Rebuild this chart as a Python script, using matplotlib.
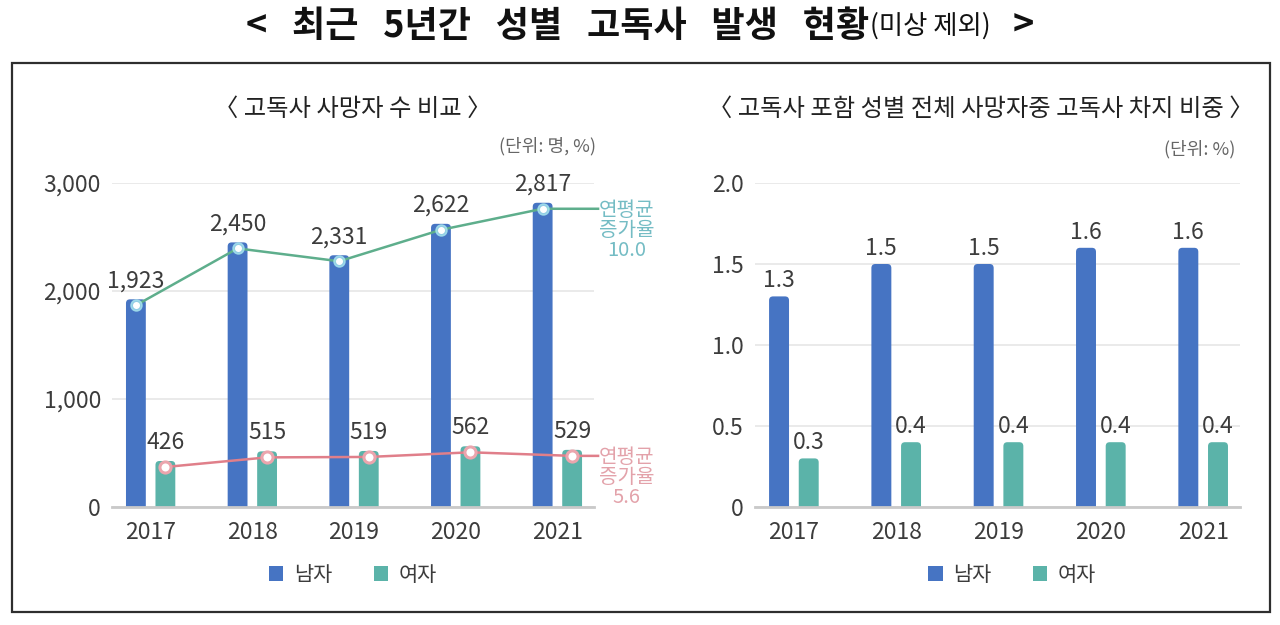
import numpy as np
import matplotlib
matplotlib.use("Agg")
import matplotlib.pyplot as plt
import matplotlib.transforms as mtransforms
from matplotlib.patches import Rectangle, Patch, FancyBboxPatch

plt.rcParams["font.family"] = ["Noto Sans CJK KR", "DejaVu Sans"]

# data
years = ["2017", "2018", "2019", "2020", "2021"]
male_deaths = [1923, 2450, 2331, 2622, 2817]
female_deaths = [426, 515, 519, 562, 529]
male_share = [1.3, 1.5, 1.5, 1.6, 1.6]
female_share = [0.3, 0.4, 0.4, 0.4, 0.4]
male_cagr = "10.0"
female_cagr = "5.6"
series_names = ["남자", "여자"]

BLUE = "#4674C3"
TEAL = "#5BB3A9"
TXT = "#3C3C3C"
GRID = "#E8E8E8"
NUM = 16.5

fig = plt.figure(figsize=(12.8, 6.25), dpi=100)

# outer frame
fig.patches.append(Rectangle((12 / 1280, 13 / 625), 1258 / 1280, 549 / 625,
                             transform=fig.transFigure, fill=False,
                             edgecolor="#2E2E2E", lw=1.6))

# main title pieces (positioned after a draw)
TY = 0.958
t1 = fig.text(0, TY, "<   최근   5년간   성별   고독사   발생   현황",
              fontsize=26, fontweight="bold", color="#111111", va="center")
t2 = fig.text(0, TY, "(미상 제외)", fontsize=19, color="#111111", va="center")
t3 = fig.text(0, TY, ">", fontsize=26, fontweight="bold", color="#111111",
              va="center")

x = np.arange(len(years))
w = 0.195
off = 0.145


def style_axes(ax, ymax, ticks, fmt):
    ax.set_xlim(-0.38, 4.36)
    ax.set_ylim(0, ymax)
    ax.set_yticks(ticks)
    ax.set_yticklabels([fmt(t) for t in ticks])
    ax.set_xticks(x)
    ax.set_xticklabels(years)
    for s in ["top", "left", "right"]:
        ax.spines[s].set_visible(False)
    ax.spines["bottom"].set_color("#C9C9C9")
    ax.spines["bottom"].set_linewidth(2)
    ax.spines["bottom"].set_zorder(6)
    ax.yaxis.grid(True, color=GRID, lw=1.3)
    ax.set_axisbelow(True)
    ax.tick_params(axis="both", length=0, labelsize=NUM, colors=TXT)
    ax.tick_params(axis="x", pad=10)
    ax.tick_params(axis="y", pad=8)


def round_bars(ax, bars, radius_px=4):
    # swap each bar for a rounded-top box with the same geometry
    fig.canvas.draw()
    p0 = ax.transData.transform((0, 0))
    p1 = ax.transData.transform((1, 1))
    ux = 1 / (p1[0] - p0[0])  # data x per pixel
    uy = 1 / (p1[1] - p0[1])  # data y per pixel
    rx = radius_px * ux
    ry = radius_px * uy
    for r in bars:
        bx, bw, bh = r.get_x(), r.get_width(), r.get_height()
        fb = FancyBboxPatch((bx, -ry), bw, bh + ry,
                            boxstyle=f"round,pad=0,rounding_size={rx}",
                            mutation_aspect=uy / ux, facecolor=r.get_facecolor(),
                            edgecolor="none", zorder=2)
        ax.add_patch(fb)
        r.set_visible(False)


def add_legend(ax, xc):
    handles = [Patch(facecolor=BLUE), Patch(facecolor=TEAL)]
    ax.legend(handles, series_names, loc="center", bbox_to_anchor=(xc, -0.21),
              ncol=2, frameon=False, fontsize=15, handlelength=0.7,
              handleheight=0.7, handletextpad=0.5, columnspacing=2.0,
              labelcolor=TXT)


# ---- left: counts ----
ax1 = fig.add_axes([112 / 1280, 118 / 625, 482 / 1280, 324 / 625])
b1 = ax1.bar(x - off, male_deaths, w, color=BLUE, zorder=2)
b2 = ax1.bar(x + off, female_deaths, w, color=TEAL, zorder=2)
style_axes(ax1, 3000, [0, 1000, 2000, 3000], lambda v: f"{v:,}")
ax1.bar_label(b1, labels=[f"{v:,}" for v in male_deaths], padding=5,
              fontsize=NUM, color=TXT)
ax1.bar_label(b2, labels=[f"{v:,}" for v in female_deaths], padding=5,
              fontsize=NUM, color=TXT)

down = mtransforms.offset_copy(ax1.transData, fig=fig, y=-6, units="dots")
# male trend line
ax1.plot(list(x - off) + [4.40], male_deaths + [male_deaths[-1]],
         color="#5EAE8C", lw=1.8, transform=down, zorder=3, clip_on=False)
ax1.plot(x - off, male_deaths, "o", ms=8, color="#A6E4EE", alpha=0.8,
         transform=down, zorder=4)
ax1.plot(x - off, male_deaths, "o", ms=4, color="white", transform=down,
         zorder=5)
# female trend line
ax1.plot(list(x + off) + [4.40], female_deaths + [female_deaths[-1]],
         color="#E07F8A", lw=1.8, transform=down, zorder=3, clip_on=False)
ax1.plot(x + off, female_deaths, "o", ms=8, mfc="white", mec="#EBA5AD",
         mew=2.2, transform=down, zorder=4)

ax1.annotate("연평균\n증가율\n" + male_cagr, xy=(4.68, male_deaths[-1]),
             xytext=(0, 2), textcoords="offset points", ha="center", va="top",
             fontsize=14.5, color="#74BCC4", linespacing=0.95,
             annotation_clip=False)
ax1.annotate("연평균\n증가율\n" + female_cagr, xy=(4.68, female_deaths[-1]),
             xytext=(0, 2), textcoords="offset points", ha="center", va="top",
             fontsize=14.5, color="#E3A2AA", linespacing=0.95,
             annotation_clip=False)

ax1.text(0.5, 1.23, "〈 고독사 사망자 수 비교 〉", transform=ax1.transAxes,
         ha="center", va="center", fontsize=17.5, color="#222222")
ax1.text(1.005, 1.115, "(단위: 명, %)", transform=ax1.transAxes,
         ha="right", va="center", fontsize=13, color="#666666")
add_legend(ax1, 0.5)

# ---- right: share ----
ax2 = fig.add_axes([755 / 1280, 118 / 625, 485 / 1280, 324 / 625])
c1 = ax2.bar(x - off, male_share, w, color=BLUE, zorder=2)
c2 = ax2.bar(x + off, female_share, w, color=TEAL, zorder=2)
style_axes(ax2, 2.0, [0, 0.5, 1.0, 1.5, 2.0],
           lambda v: "0" if v == 0 else f"{v:.1f}")
ax2.bar_label(c1, labels=[f"{v:.1f}" for v in male_share], padding=3,
              fontsize=NUM, color=TXT)
ax2.bar_label(c2, labels=[f"{v:.1f}" for v in female_share], padding=3,
              fontsize=NUM, color=TXT)
ax2.text(0.465, 1.23, "〈 고독사 포함 성별 전체 사망자중 고독사 차지 비중 〉",
         transform=ax2.transAxes, ha="center", va="center", fontsize=17.5,
         color="#222222")
ax2.text(0.99, 1.105, "(단위: %)", transform=ax2.transAxes,
         ha="right", va="center", fontsize=13, color="#666666")
add_legend(ax2, 0.53)

for ax, bars in [(ax1, b1), (ax1, b2), (ax2, c1), (ax2, c2)]:
    round_bars(ax, bars)

# chain the title pieces and centre the group
fig.canvas.draw()
r = fig.canvas.get_renderer()
W = fig.bbox.width
w1 = t1.get_window_extent(r).width / W
w2 = t2.get_window_extent(r).width / W
w3 = t3.get_window_extent(r).width / W
gap = 22 / 1280
x0 = 0.5 - (w1 + w2 + gap + w3) / 2
t1.set_x(x0)
t2.set_x(x0 + w1)
t3.set_x(x0 + w1 + w2 + gap)

fig.savefig("out.png", dpi=100)
